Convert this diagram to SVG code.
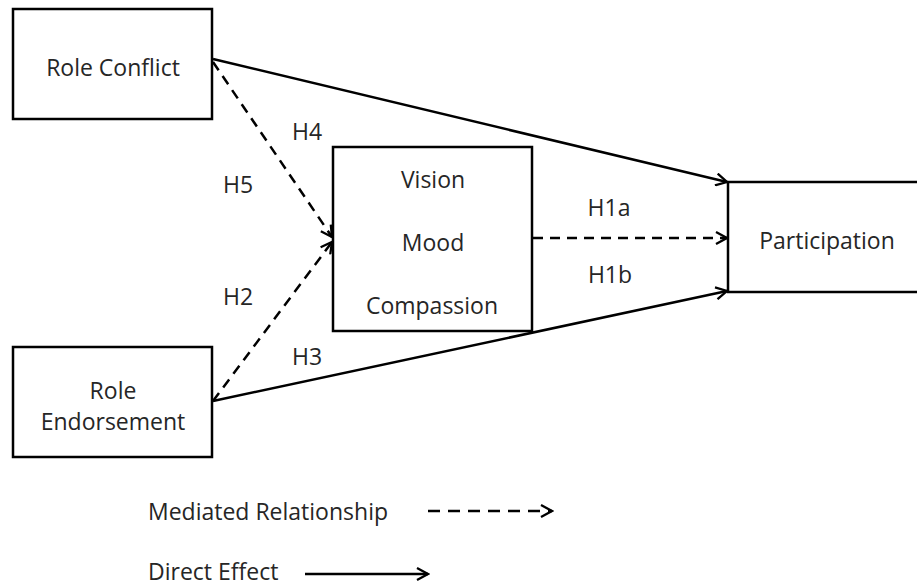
<svg xmlns="http://www.w3.org/2000/svg" width="917" height="588" viewBox="0 0 917 588">
  <style>
    .box { fill: #fff; stroke: #000; stroke-width: 2.5; }
    .lbl { font-family: "Open Sans", "Liberation Sans", sans-serif; font-size: 23px; fill: #262626; text-anchor: middle; }
    .leg { text-anchor: start; }
    .solid { stroke: #000; stroke-width: 2.5; fill: none; marker-end: url(#arrow); }
    .dash { stroke: #000; stroke-width: 2.5; fill: none; stroke-dasharray: 10 7; marker-end: url(#arrow); }
    .dash-leg { stroke-dasharray: 12 8; }
  </style>
  <defs>
    <marker id="arrow" viewBox="0 0 14 14" refX="12.5" refY="7" markerWidth="14" markerHeight="14" markerUnits="userSpaceOnUse" orient="auto">
      <path d="M1.5,1 L12.5,7 L1.5,13" fill="none" stroke="#000" stroke-width="2.3"/>
    </marker>
  </defs>

  <rect width="917" height="588" fill="#fff"/>

  <g id="connectors">
    <line class="solid" x1="213" y1="59" x2="727" y2="182"/>
    <line class="dash" x1="213" y1="62" x2="332" y2="237"/>
    <line class="dash" x1="213" y1="401" x2="332" y2="242"/>
    <line class="solid" x1="213" y1="401" x2="727" y2="291"/>
    <line class="dash" x1="533" y1="238" x2="727" y2="238"/>
  </g>

  <g id="role-conflict">
    <rect class="box" x="13" y="9" width="199" height="110"/>
    <text class="lbl" x="113" y="76">Role Conflict</text>
  </g>

  <g id="role-endorsement">
    <rect class="box" x="13" y="347" width="199" height="110"/>
    <text class="lbl" x="113" y="399">Role</text>
    <text class="lbl" x="113" y="430">Endorsement</text>
  </g>

  <g id="mediators">
    <rect class="box" x="333" y="147" width="199" height="184"/>
    <text class="lbl" x="433" y="188">Vision</text>
    <text class="lbl" x="433" y="251">Mood</text>
    <text class="lbl" x="432" y="314">Compassion</text>
  </g>

  <g id="participation">
    <rect class="box" x="728" y="182" width="220" height="110"/>
    <text class="lbl" x="827" y="249">Participation</text>
  </g>

  <g id="hypotheses">
    <text class="lbl" x="307" y="140">H4</text>
    <text class="lbl" x="238" y="193">H5</text>
    <text class="lbl" x="238" y="305">H2</text>
    <text class="lbl" x="307" y="365">H3</text>
    <text class="lbl" x="609" y="216">H1a</text>
    <text class="lbl" x="610" y="283">H1b</text>
  </g>

  <g id="legend">
    <text class="lbl leg" x="148" y="520">Mediated Relationship</text>
    <line class="dash dash-leg" x1="428" y1="511" x2="552" y2="511"/>
    <text class="lbl leg" x="148" y="580">Direct Effect</text>
    <line class="solid" x1="305" y1="574" x2="428" y2="574"/>
  </g>
</svg>
